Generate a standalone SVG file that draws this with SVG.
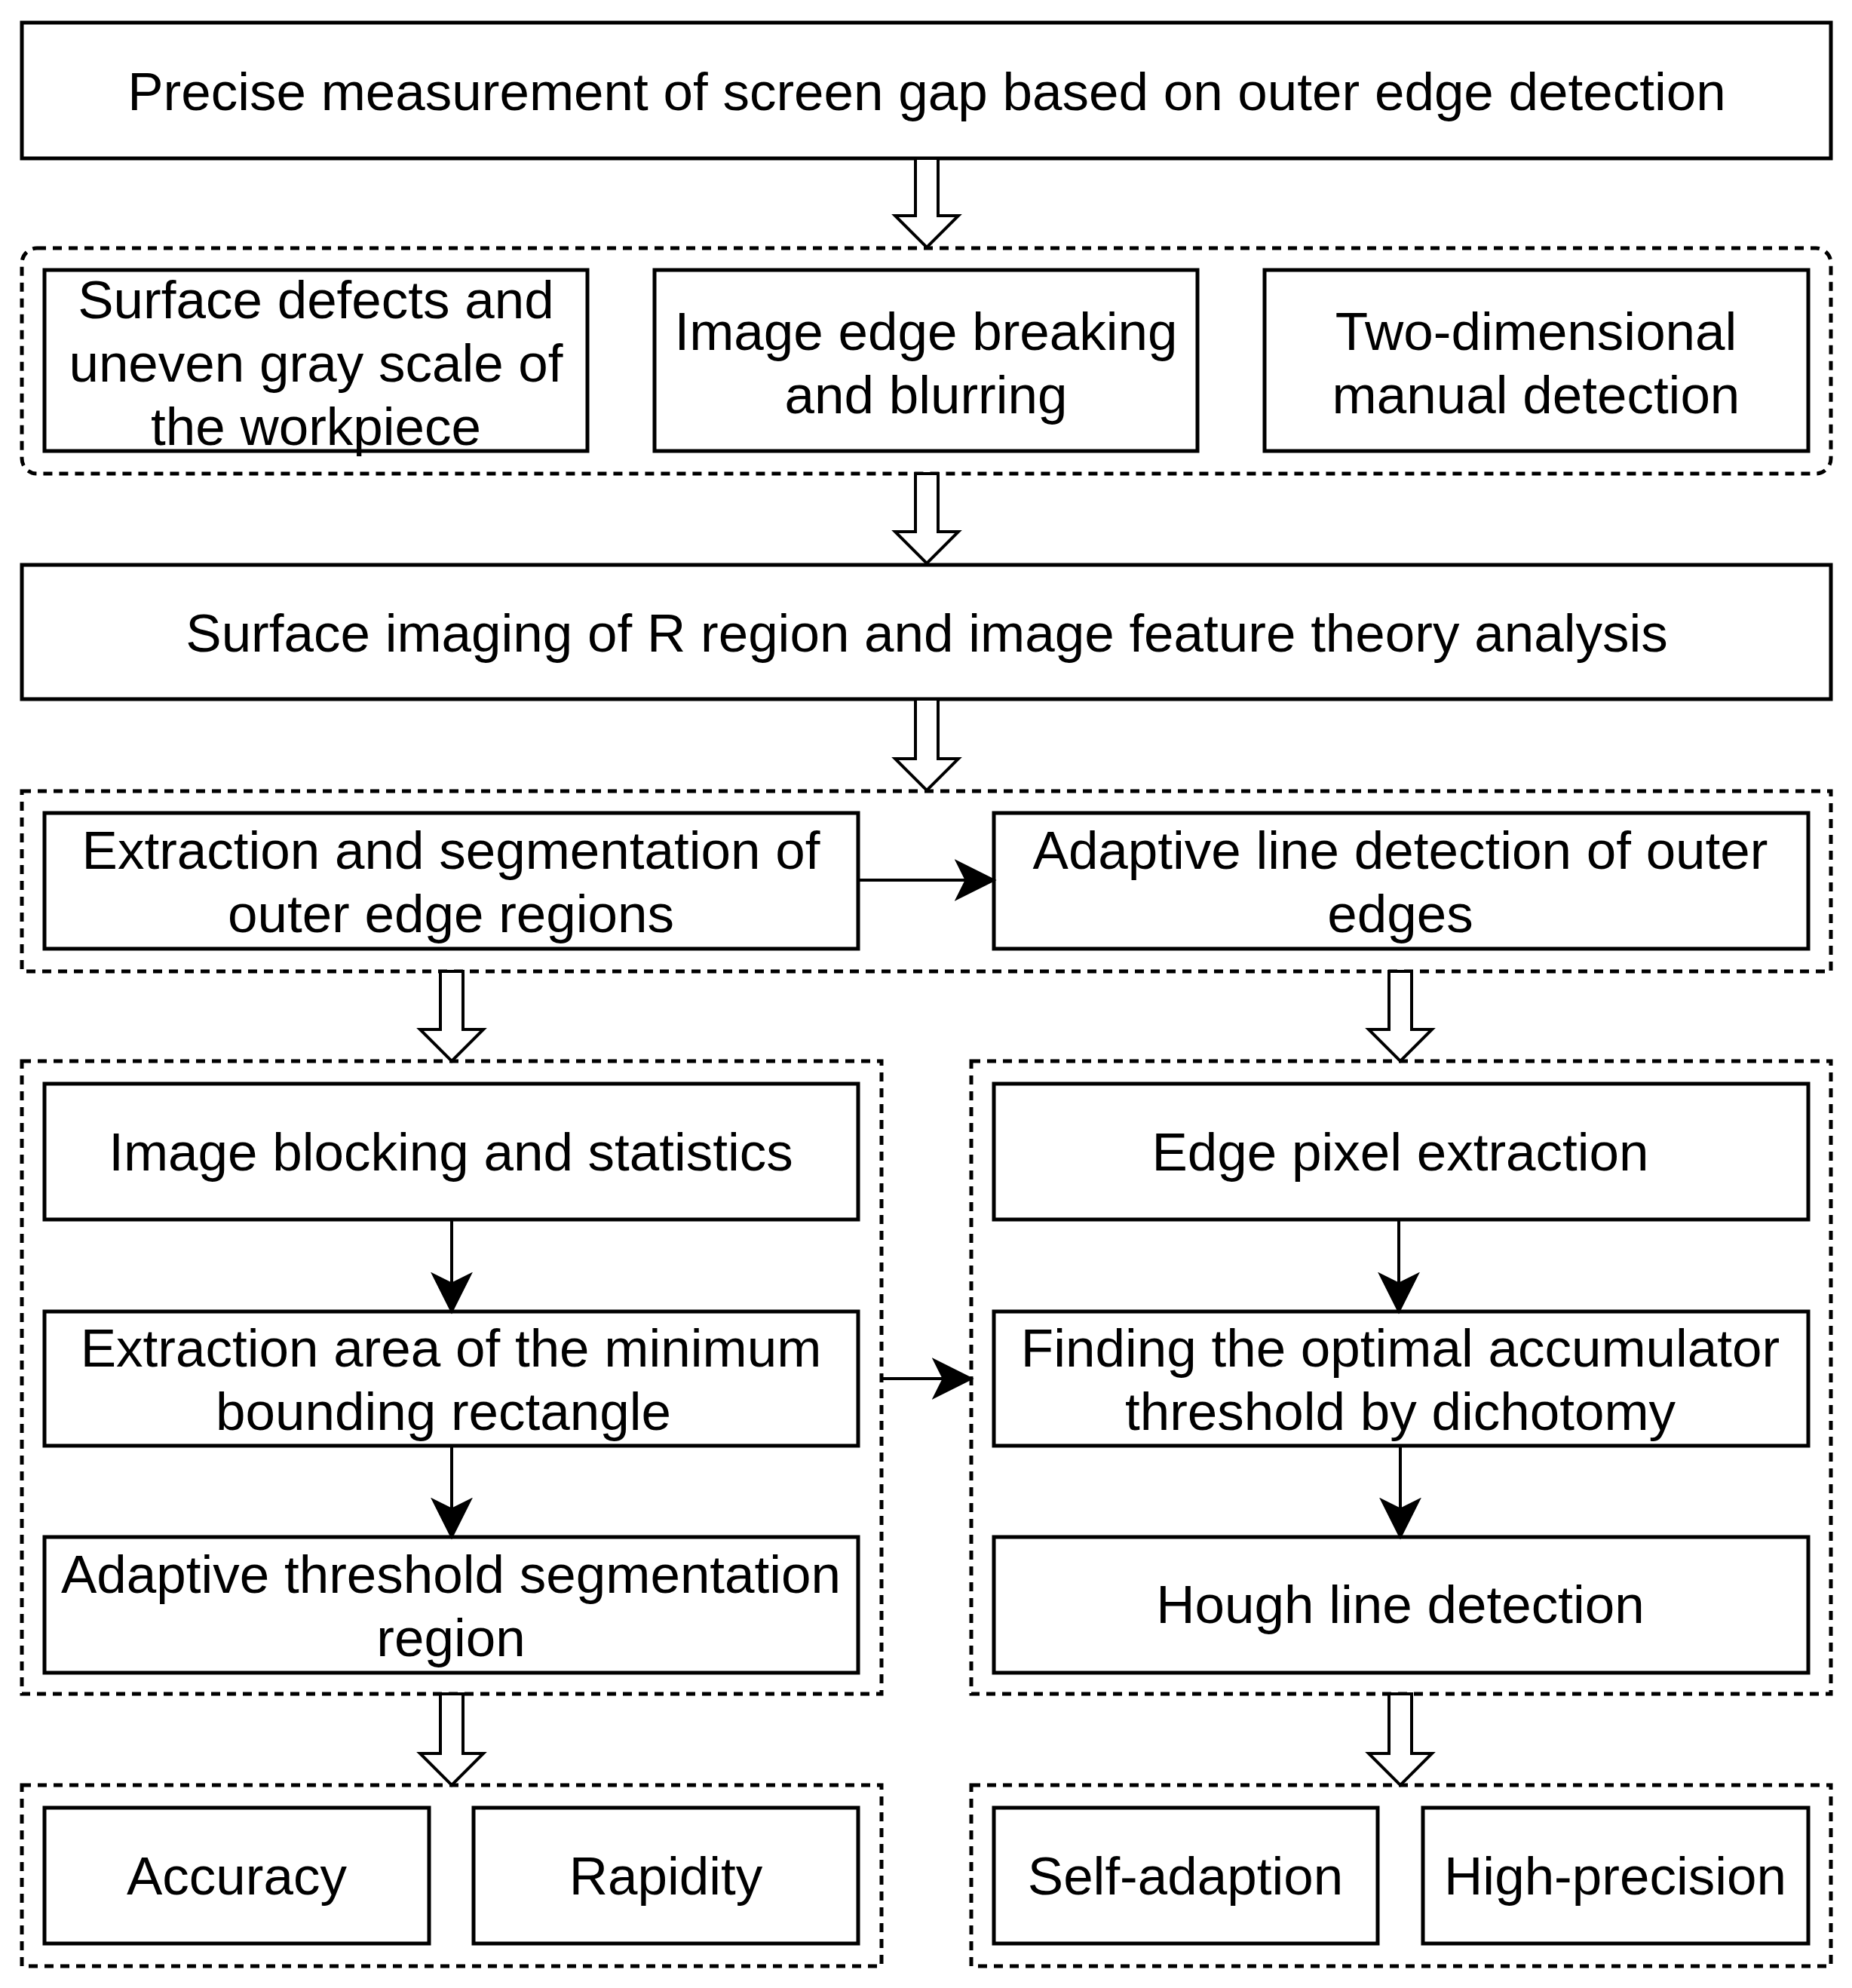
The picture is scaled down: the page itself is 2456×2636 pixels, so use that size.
<svg xmlns="http://www.w3.org/2000/svg" width="2456" height="2636" viewBox="0 0 2456 2636">
<style>
.b{fill:#fff;stroke:#000;stroke-width:5}
.g{fill:none;stroke:#000;stroke-width:5;stroke-dasharray:12 9}
.h{fill:#fff;stroke:#000;stroke-width:4;stroke-linejoin:miter}
.c{fill:none;stroke:#000;stroke-width:4}
text{font-family:"Liberation Sans",Arial,sans-serif;font-size:71px;text-anchor:middle;fill:#000}
</style>
<defs>
<marker id="m" viewBox="0 0 20 20" refX="18" refY="10" markerWidth="56" markerHeight="56" markerUnits="userSpaceOnUse" orient="auto"><path d="M0,0 L20,10 L0,20 L5,10 Z"/></marker>
</defs>
<g id="groups">
<rect class="g" x="29" y="329" width="2399" height="299" rx="20"/>
<rect class="g" x="29" y="1049" width="2399" height="239"/>
<rect class="g" x="29" y="1407" width="1140" height="839"/>
<rect class="g" x="1288" y="1407" width="1140" height="839"/>
<rect class="g" x="29" y="2367" width="1140" height="240"/>
<rect class="g" x="1288" y="2367" width="1140" height="240"/>
</g>
<g id="n1"><rect class="b" x="29" y="30" width="2399" height="180"/><text x="1229" y="146">Precise measurement of screen gap based on outer edge detection</text></g>
<g id="n2"><rect class="b" x="59" y="358" width="720" height="240"/><text x="419" y="422">Surface defects and</text><text x="419" y="506">uneven gray scale of</text><text x="419" y="590">the workpiece</text></g>
<g id="n3"><rect class="b" x="868" y="358" width="720" height="240"/><text x="1228" y="464">Image edge breaking</text><text x="1228" y="548">and blurring</text></g>
<g id="n4"><rect class="b" x="1677" y="358" width="721" height="240"/><text x="2037" y="464">Two-dimensional</text><text x="2037" y="548">manual detection</text></g>
<g id="n5"><rect class="b" x="29" y="749" width="2399" height="178"/><text x="1229" y="864">Surface imaging of R region and image feature theory analysis</text></g>
<g id="n6"><rect class="b" x="59" y="1078" width="1079" height="180"/><text x="598" y="1152">Extraction and segmentation of</text><text x="598" y="1236">outer edge regions</text></g>
<g id="n7"><rect class="b" x="1318" y="1078" width="1080" height="180"/><text x="1857" y="1152">Adaptive line detection of outer</text><text x="1857" y="1236">edges</text></g>
<g id="n8"><rect class="b" x="59" y="1437" width="1079" height="180"/><text x="598" y="1552">Image blocking and statistics</text></g>
<g id="n9"><rect class="b" x="59" y="1739" width="1079" height="178"/><text x="598" y="1812">Extraction area of the minimum</text><text x="588" y="1896">bounding rectangle</text></g>
<g id="n10"><rect class="b" x="59" y="2038" width="1079" height="180"/><text x="598" y="2112">Adaptive threshold segmentation</text><text x="598" y="2196">region</text></g>
<g id="n11"><rect class="b" x="1318" y="1437" width="1080" height="180"/><text x="1857" y="1552">Edge pixel extraction</text></g>
<g id="n12"><rect class="b" x="1318" y="1739" width="1080" height="178"/><text x="1857" y="1812">Finding the optimal accumulator</text><text x="1857" y="1896">threshold by dichotomy</text></g>
<g id="n13"><rect class="b" x="1318" y="2038" width="1080" height="180"/><text x="1857" y="2152">Hough line detection</text></g>
<g id="n14"><rect class="b" x="59" y="2397" width="510" height="180"/><text x="314" y="2512">Accuracy</text></g>
<g id="n15"><rect class="b" x="628" y="2397" width="510" height="180"/><text x="883" y="2512">Rapidity</text></g>
<g id="n16"><rect class="b" x="1318" y="2397" width="509" height="180"/><text x="1572" y="2512">Self-adaption</text></g>
<g id="n17"><rect class="b" x="1887" y="2397" width="511" height="180"/><text x="2142" y="2512">High-precision</text></g>
<g id="connectors">
<path class="h" d="M1214,210 V286 H1187 L1229,328 L1271,286 H1244 V210 Z"/>
<path class="h" d="M1214,628 V705 H1187 L1229,747 L1271,705 H1244 V628 Z"/>
<path class="h" d="M1214,927 V1006 H1187 L1229,1048 L1271,1006 H1244 V927 Z"/>
<path class="h" d="M584,1288 V1365 H557 L599,1407 L641,1365 H614 V1288 Z"/>
<path class="h" d="M1842,1288 V1365 H1815 L1857,1407 L1899,1365 H1872 V1288 Z"/>
<path class="h" d="M584,2246 V2325 H557 L599,2367 L641,2325 H614 V2246 Z"/>
<path class="h" d="M1842,2246 V2325 H1815 L1857,2367 L1899,2325 H1872 V2246 Z"/>
<path class="c" d="M1138,1167 H1316" marker-end="url(#m)"/>
<path class="c" d="M599,1617 V1737" marker-end="url(#m)"/>
<path class="c" d="M599,1917 V2036" marker-end="url(#m)"/>
<path class="c" d="M1855,1617 V1737" marker-end="url(#m)"/>
<path class="c" d="M1857,1917 V2036" marker-end="url(#m)"/>
<path class="c" d="M1169,1828 H1286" marker-end="url(#m)"/>
</g>
</svg>
